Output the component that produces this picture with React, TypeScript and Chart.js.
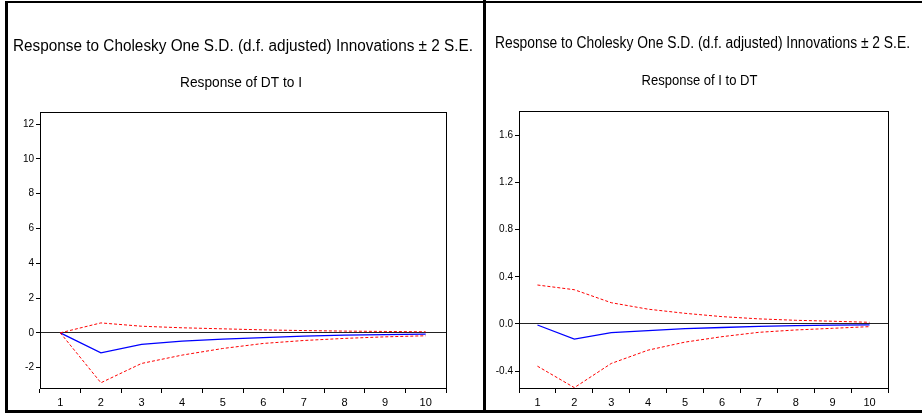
import React, { useEffect, useRef } from "react";
import { Chart, registerables } from "chart.js";

Chart.register(...registerables);

const periods = ["1", "2", "3", "4", "5", "6", "7", "8", "9", "10"];

// Response of DT to I
const dtResponse = [0, -1.15, -0.66, -0.48, -0.36, -0.27, -0.19, -0.13, -0.1, -0.07];
const dtUpper = [0, 0.57, 0.38, 0.29, 0.23, 0.17, 0.13, 0.1, 0.08, 0.06];
const dtLower = [0, -2.87, -1.76, -1.28, -0.9, -0.61, -0.44, -0.32, -0.23, -0.17];
const dtTicks = [-2, 0, 2, 4, 6, 8, 10, 12];

// Response of I to DT
const iResponse = [-0.009, -0.128, -0.074, -0.057, -0.04, -0.03, -0.02, -0.015, -0.01, -0.008];
const iUpper = [0.33, 0.29, 0.18, 0.125, 0.09, 0.062, 0.043, 0.031, 0.023, 0.014];
const iLower = [-0.358, -0.54, -0.335, -0.222, -0.154, -0.108, -0.071, -0.051, -0.037, -0.023];
const iTicks = [-0.4, 0, 0.4, 0.8, 1.2, 1.6];

const mainTitle = "Response to Cholesky One S.D. (d.f. adjusted) Innovations \u00B1 2 S.E.";
const FONT = '"Liberation Sans", Arial, sans-serif';

type TitleLine = { text: string; x: number; y: number; width: number; size: number };

function makeDecor(lines: TitleLine[]) {
  return {
    id: "panelDecor",
    afterDraw(chart: any) {
      const ctx = chart.ctx as CanvasRenderingContext2D;
      ctx.save();
      ctx.fillStyle = "#000";
      ctx.textAlign = "center";
      ctx.textBaseline = "middle";
      for (const l of lines) {
        ctx.font = `${l.size}px ${FONT}`;
        const w = ctx.measureText(l.text).width;
        const sx = l.width / w;
        ctx.save();
        ctx.translate(l.x, l.y);
        ctx.scale(sx, 1);
        ctx.fillText(l.text, 0, 0);
        ctx.restore();
      }
      const a = chart.chartArea;
      ctx.strokeStyle = "#000";
      ctx.lineWidth = 1;
      ctx.strokeRect(Math.round(a.left) + 0.5, Math.round(a.top) + 0.5, Math.round(a.right - a.left), Math.round(a.bottom - a.top));
      ctx.restore();
    },
  };
}

type PanelProps = {
  left: number;
  width: number;
  resp: number[];
  upper: number[];
  lower: number[];
  ticks: number[];
  min: number;
  max: number;
  decimals: number;
  yAxisWidth: number;
  padTop: number;
  padRight: number;
  lines: TitleLine[];
};

function Panel(p: PanelProps) {
  const ref = useRef<HTMLCanvasElement>(null);
  useEffect(() => {
    if (!ref.current) return;
    const chart = new Chart(ref.current, {
      type: "line",
      data: {
        labels: periods,
        datasets: [
          { data: p.upper, borderColor: "#FF0000", borderWidth: 1, borderDash: [3, 2], pointRadius: 0, fill: false, tension: 0 },
          { data: p.lower, borderColor: "#FF0000", borderWidth: 1, borderDash: [3, 2], pointRadius: 0, fill: false, tension: 0 },
          { data: p.resp, borderColor: "#0000FF", borderWidth: 1.3, pointRadius: 0, fill: false, tension: 0 },
        ],
      },
      options: {
        responsive: false,
        animation: false,
        devicePixelRatio: 1,
        events: [],
        layout: { padding: { left: 0, top: p.padTop, right: p.padRight, bottom: 0 } },
        plugins: { legend: { display: false }, tooltip: { enabled: false }, title: { display: false } },
        scales: {
          x: {
            type: "category",
            offset: true,
            grid: { offset: true, drawOnChartArea: false, tickLength: 5, color: "#000", tickColor: "#000" },
            border: { color: "#000" },
            ticks: { color: "#000", font: { size: 11, family: FONT }, padding: 3, maxRotation: 0, autoSkip: false },
            afterFit: (s: any) => {
              s.height = 25;
            },
          },
          y: {
            min: p.min,
            max: p.max,
            afterBuildTicks: (s: any) => {
              s.ticks = p.ticks.map((v) => ({ value: v }));
            },
            afterFit: (s: any) => {
              s.width = p.yAxisWidth;
            },
            grid: {
              drawOnChartArea: true,
              tickLength: 4,
              tickColor: "#000",
              color: (c: any) => (c.tick && Math.abs(c.tick.value) < 1e-9 ? "#222" : "rgba(0,0,0,0)"),
            },
            border: { color: "#000" },
            ticks: {
              color: "#000",
              font: { size: 10, family: FONT },
              padding: 2,
              callback: (v: any) => Number(v).toFixed(p.decimals),
            },
          },
        },
      },
      plugins: [makeDecor(p.lines)],
    } as any);
    return () => chart.destroy();
  }, []);
  return (
    <canvas
      ref={ref}
      width={p.width}
      height={413}
      style={{ position: "absolute", left: p.left, top: 0, width: p.width, height: 413 }}
    />
  );
}

export default function App() {
  const bar = (style: React.CSSProperties) => <div style={{ position: "absolute", background: "#000", ...style }} />;
  return (
    <div style={{ position: "absolute", left: 0, top: 0, width: 922, height: 413, background: "#fff", overflow: "hidden" }}>
      <Panel
        left={0}
        width={484}
        resp={dtResponse}
        upper={dtUpper}
        lower={dtLower}
        ticks={dtTicks}
        min={-3.17}
        max={12.69}
        decimals={0}
        yAxisWidth={40}
        padTop={112}
        padRight={38}
        lines={[
          { text: mainTitle, x: 243, y: 47, width: 460, size: 16 },
          { text: "Response of DT to I", x: 241, y: 83, width: 122, size: 14 },
        ]}
      />
      <Panel
        left={484}
        width={438}
        resp={iResponse}
        upper={iUpper}
        lower={iLower}
        ticks={iTicks}
        min={-0.543}
        max={1.805}
        decimals={1}
        yAxisWidth={35}
        padTop={111}
        padRight={34}
        lines={[
          { text: mainTitle, x: 218.5, y: 44, width: 415, size: 16 },
          { text: "Response of I to DT", x: 215.5, y: 81.5, width: 116, size: 14 },
        ]}
      />
      {bar({ left: 5, top: 1, width: 3, height: 412 })}
      {bar({ left: 5, top: 1, width: 917, height: 2 })}
      {bar({ left: 483, top: 0, width: 3, height: 413 })}
      {bar({ left: 5, top: 410, width: 917, height: 3 })}
    </div>
  );
}
